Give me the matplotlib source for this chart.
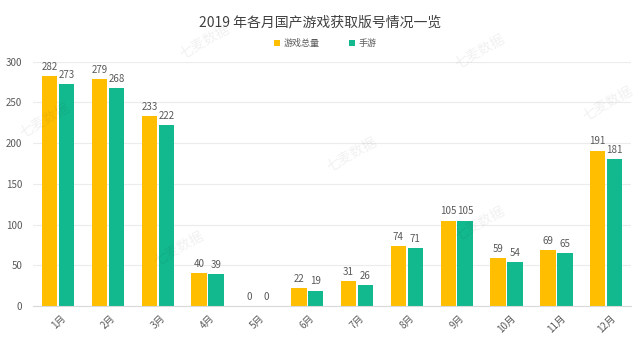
import matplotlib
matplotlib.use("Agg")
import matplotlib.pyplot as plt
import numpy as np

plt.rcParams["font.family"] = ["Noto Sans CJK SC", "DejaVu Sans"]

months = ["1月", "2月", "3月", "4月", "5月", "6月", "7月", "8月", "9月", "10月", "11月", "12月"]
total_games = [282, 279, 233, 40, 0, 22, 31, 74, 105, 59, 69, 191]
mobile_games = [273, 268, 222, 39, 0, 19, 26, 71, 105, 54, 65, 181]

yellow = "#FFBF00"
green = "#13B98E"
text_gray = "#595959"

fig = plt.figure(figsize=(6.4, 3.45), dpi=100)
ax = fig.add_axes([0.052, 0.113, 0.934, 0.708])

x = np.arange(len(months))
width = 0.31
offset = 0.17
bars1 = ax.bar(x - offset, total_games, width, color=yellow, label="游戏总量")
bars2 = ax.bar(x + offset, mobile_games, width, color=green, label="手游")

for bars in (bars1, bars2):
    for b in bars:
        ax.text(b.get_x() + b.get_width() / 2, b.get_height() + 5, f"{int(b.get_height())}",
                ha="center", va="bottom", fontsize=7, color=text_gray)

ax.set_xlim(-0.5, len(months) - 0.5)
ax.set_ylim(0, 300)
ax.set_yticks(range(0, 301, 50))
ax.set_xticks(x)
ax.set_xticklabels(months, rotation=45, fontsize=7, color=text_gray)
ax.tick_params(axis="y", labelsize=7, colors=text_gray, length=0, pad=8)
ax.tick_params(axis="x", length=0, pad=5)
for lab in ax.get_xticklabels():
    lab.set_ha("center")
ax.yaxis.grid(True, color="#ececec", linewidth=0.8)
ax.set_axisbelow(True)
for side in ("top", "right", "left"):
    ax.spines[side].set_visible(False)
ax.spines["bottom"].set_color("#d9d9d9")

fig.text(0.5, 0.935, "2019 年各月国产游戏获取版号情况一览", ha="center", va="center",
         fontsize=10, color="#404040")
fig.legend(handles=[bars1, bars2], loc="center", bbox_to_anchor=(0.508, 0.873), ncol=2,
           frameon=False, fontsize=6.5, handlelength=0.7, handleheight=0.7,
           columnspacing=3.2, handletextpad=0.4, labelcolor=text_gray)

# faint watermarks
for wx, wy in [(0.07, 0.65), (0.32, 0.88), (0.28, 0.28), (0.55, 0.55), (0.75, 0.85), (0.75, 0.35), (0.95, 0.7)]:
    fig.text(wx, wy, "七麦数据", rotation=30, fontsize=10, color="#000000", alpha=0.06,
             ha="center", va="center")

fig.savefig("out.png", dpi=100)
